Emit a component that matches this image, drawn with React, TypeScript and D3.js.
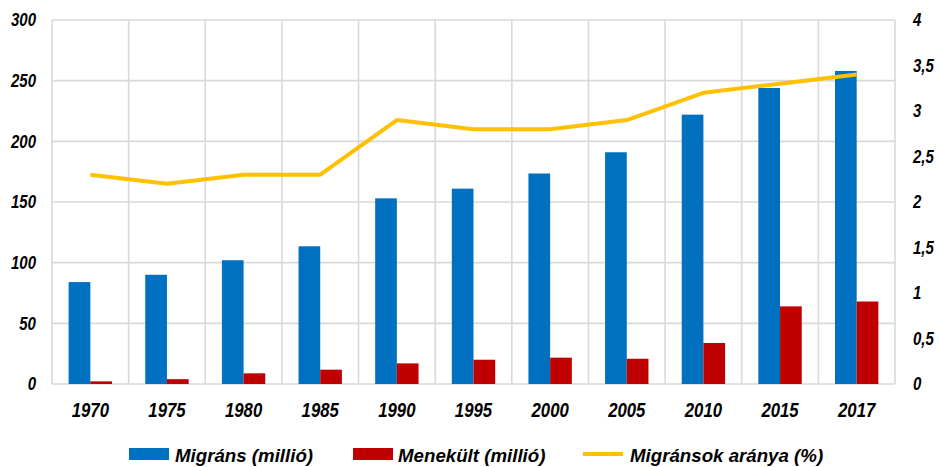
import React from "react";
import * as d3 from "d3";

const years = ["1970", "1975", "1980", "1985", "1990", "1995", "2000", "2005", "2010", "2015", "2017"];
const migrants = [84, 90, 102, 113.5, 153, 161, 173.5, 191, 222, 244, 258];
const refugees = [2.2, 4, 8.8, 11.8, 17, 20, 21.7, 20.8, 33.8, 64, 68];
const share = [2.3, 2.2, 2.3, 2.3, 2.9, 2.8, 2.8, 2.9, 3.2, 3.3, 3.4];
const leftTicks = [0, 50, 100, 150, 200, 250, 300];
const rightTicks = [0, 0.5, 1, 1.5, 2, 2.5, 3, 3.5, 4];
const legendLabels = ["Migráns (millió)", "Menekült (millió)", "Migránsok aránya (%)"];

const W = 939;
const H = 467;
const M = { left: 52, right: 895, top: 20, bottom: 384 };
const FONT = "'Liberation Sans', Arial, sans-serif";
const BLUE = "#0070C0";
const RED = "#C00000";
const YEL = "#FFC000";
const GRID = "#D9D9D9";
const SX = 0.86;

function NText(props: { x: number; y: number; anchor: string; size: number; children: React.ReactNode }) {
  return (
    <text
      transform={`translate(${props.x},${props.y}) scale(${SX},1)`}
      dy="0.36em"
      textAnchor={props.anchor}
      fontFamily={FONT}
      fontWeight="bold"
      fontStyle="italic"
      fontSize={props.size}
      fill="#000"
    >
      {props.children}
    </text>
  );
}

export default function App() {
  const x = d3.scaleBand<string>().domain(years).range([M.left, M.right]).paddingInner(0).paddingOuter(0);
  const yL = d3.scaleLinear().domain([0, 300]).range([M.bottom, M.top]);
  const yR = d3.scaleLinear().domain([0, 4]).range([M.bottom, M.top]);
  const bw = x.bandwidth();
  const barW = bw * 0.283;
  const cx = (c: string) => (x(c) as number) + bw / 2;
  const line = d3
    .line<number>()
    .x((_, i) => cx(years[i]))
    .y((d) => yR(d));
  const fmt = (v: number) => String(v).replace(".", ",");

  return (
    <svg width={W} height={H} style={{ position: "absolute", left: 0, top: 0, background: "#fff" }}>
      <rect x={0} y={0} width={W} height={H} fill="#fff" />
      {leftTicks.map((t) => (
        <line key={"h" + t} x1={M.left} x2={M.right} y1={yL(t)} y2={yL(t)} stroke={GRID} strokeWidth={1.6} />
      ))}
      {years.map((c) => (
        <line key={"v" + c} x1={x(c) as number} x2={x(c) as number} y1={M.top} y2={M.bottom} stroke={GRID} strokeWidth={1.6} />
      ))}
      <line x1={M.right} x2={M.right} y1={M.top} y2={M.bottom} stroke={GRID} strokeWidth={1.6} />
      {years.map((c, i) => (
        <g key={"b" + c}>
          <rect x={cx(c) - barW} y={yL(migrants[i])} width={barW} height={yL(0) - yL(migrants[i])} fill={BLUE} />
          <rect x={cx(c)} y={yL(refugees[i])} width={barW} height={yL(0) - yL(refugees[i])} fill={RED} />
        </g>
      ))}
      <path d={line(share) || ""} fill="none" stroke={YEL} strokeWidth={4} strokeLinejoin="round" />
      {leftTicks.map((t) => (
        <NText key={"l" + t} x={36} y={yL(t)} anchor="end" size={17.5}>
          {t}
        </NText>
      ))}
      {rightTicks.map((t) => (
        <NText key={"r" + t} x={913} y={yR(t)} anchor="start" size={17.5}>
          {fmt(t)}
        </NText>
      ))}
      {years.map((c) => (
        <NText key={"x" + c} x={cx(c)} y={410} anchor="middle" size={19.5}>
          {c}
        </NText>
      ))}
      <rect x={129} y={448} width={40} height={12} fill={BLUE} />
      <text x={175} y={455} dy="0.36em" fontFamily={FONT} fontWeight="bold" fontStyle="italic" fontSize={18.7} fill="#000">
        {legendLabels[0]}
      </text>
      <rect x={353} y={448} width={40} height={12} fill={RED} />
      <text x={398} y={455} dy="0.36em" fontFamily={FONT} fontWeight="bold" fontStyle="italic" fontSize={18.7} fill="#000">
        {legendLabels[1]}
      </text>
      <line x1={583} x2={623} y1={454} y2={454} stroke={YEL} strokeWidth={4} />
      <text x={630} y={455} dy="0.36em" fontFamily={FONT} fontWeight="bold" fontStyle="italic" fontSize={18.7} fill="#000">
        {legendLabels[2]}
      </text>
    </svg>
  );
}
